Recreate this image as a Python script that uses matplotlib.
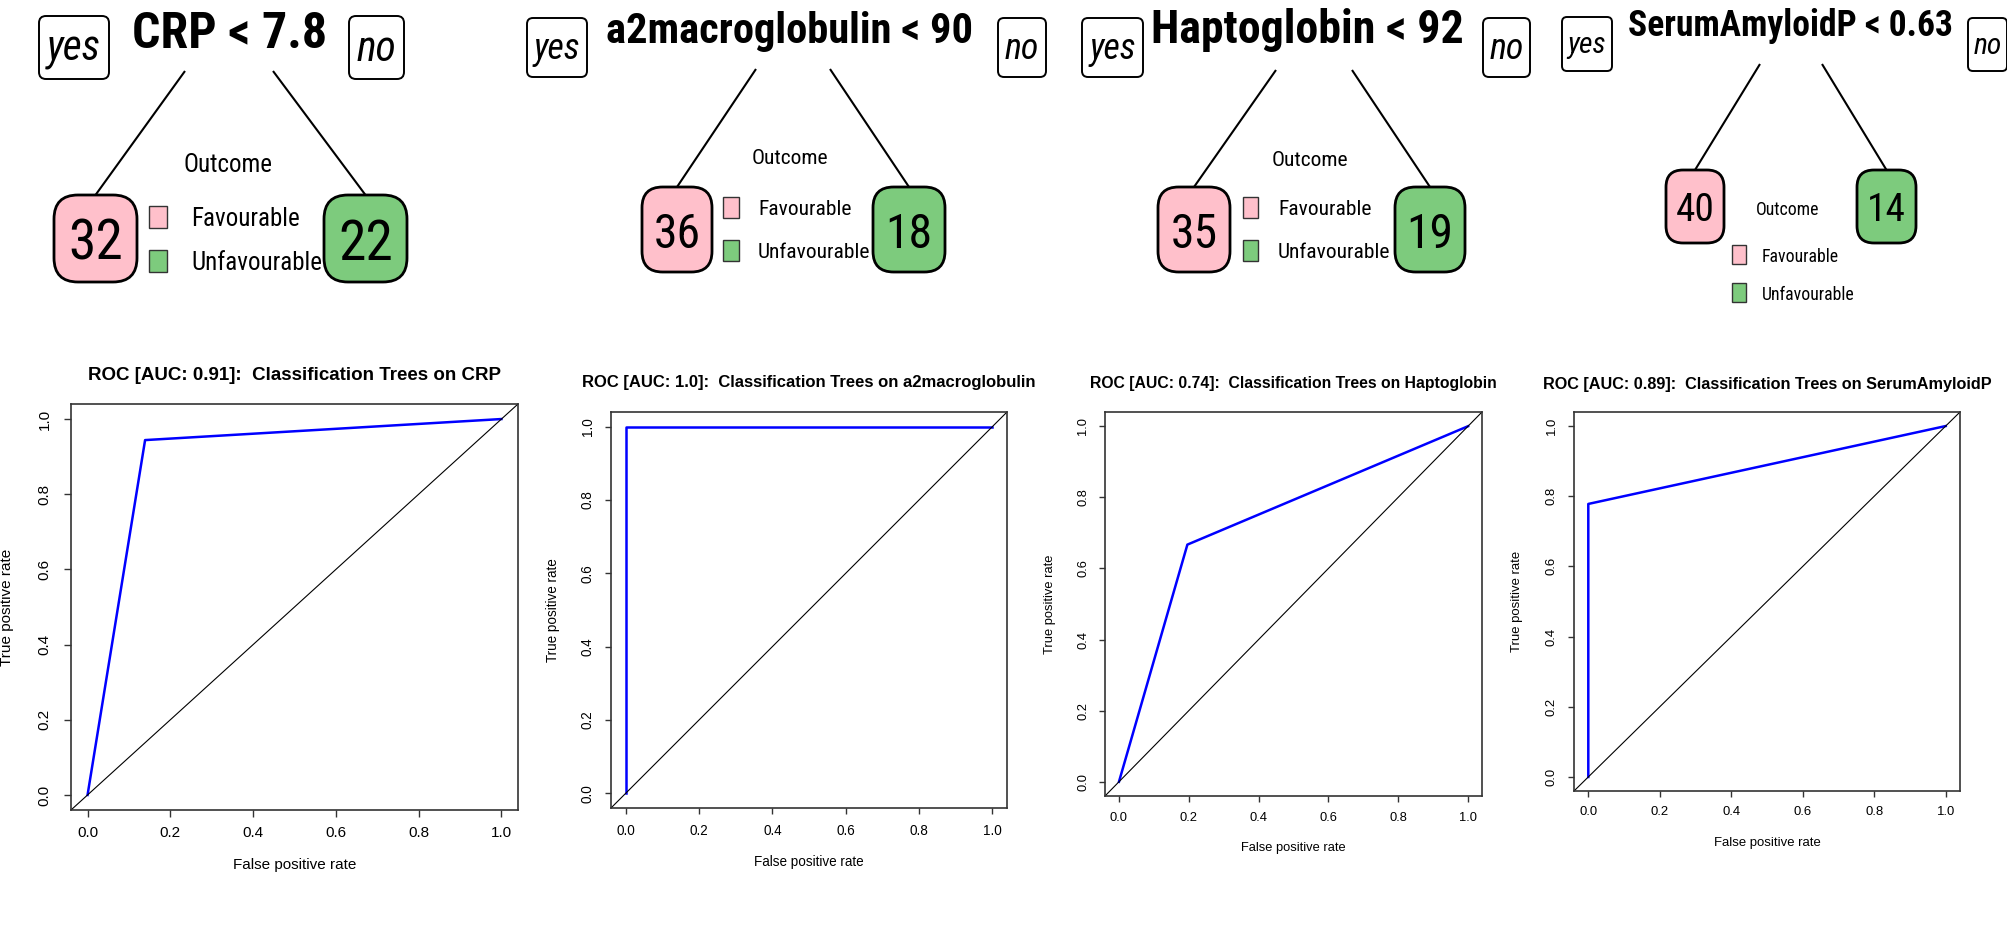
import matplotlib
matplotlib.use("Agg")
import matplotlib.pyplot as plt
from matplotlib import font_manager
from matplotlib.patches import FancyBboxPatch, Rectangle

# ---------------- DATA ----------------
split_vars = ["CRP", "a2macroglobulin", "Haptoglobin", "SerumAmyloidP"]
split_values = ["7.8", "90", "92", "0.63"]
yes_counts = [32, 36, 35, 40]
no_counts = [22, 18, 19, 14]
classes = ["Favourable", "Unfavourable"]
auc = ["0.91", "1.0", "0.74", "0.89"]
fpr = [[0.0, 0.139, 1.0], [0.0, 0.0, 1.0], [0.0, 0.196, 1.0], [0.0, 0.0, 1.0]]
tpr = [[0.0, 0.944, 1.0], [0.0, 1.0, 1.0], [0.0, 0.667, 1.0], [0.0, 0.778, 1.0]]
ticks = [0.0, 0.2, 0.4, 0.6, 0.8, 1.0]
tick_labels = ["0.0", "0.2", "0.4", "0.6", "0.8", "1.0"]

class_colors = ["#FFC0CB", "#7DCB7D"]

W, H = 2008, 939

# narrow font for the rpart trees, if there is one
names = {f.name for f in font_manager.fontManager.ttflist}
narrow = None
for cand in ["Liberation Sans Narrow", "Arial Narrow", "Roboto Condensed"]:
    if cand in names:
        narrow = cand
        break
fk = 1.0
if narrow is None:
    narrow = "Liberation Sans"
    fk = 0.88
plain = "Liberation Sans"

fig = plt.figure(figsize=(W / 100, H / 100), dpi=100)
ov = fig.add_axes([0, 0, 1, 1], zorder=0)
ov.set_xlim(0, W)
ov.set_ylim(H, 0)
ov.axis("off")

# ---------------- TREES (pixel layout) ----------------
trees = [
    dict(s=1.0, yes=(39, 16, 70, 63), no=(349, 16, 55, 63), title=(230, 29, 195),
         split=(185, 273, 71), leafL=(54, 195, 83, 87), leafR=(324, 195, 83, 87),
         outcome=(228, 162), sq=(149, 18, 22, (206, 250)), legx=191),
    dict(s=0.86, yes=(527, 18, 60, 59), no=(998, 18, 48, 59), title=(790, 27, 367),
         split=(756, 830, 69), leafL=(642, 187, 70, 85), leafR=(873, 187, 72, 85),
         outcome=(790, 157), sq=(723, 16, 21, (197, 240)), legx=758),
    dict(s=0.86, yes=(1082, 18, 61, 59), no=(1483, 18, 47, 59), title=(1307, 26, 312),
         split=(1276, 1352, 70), leafL=(1158, 187, 72, 85), leafR=(1395, 187, 70, 85),
         outcome=(1310, 158), sq=(1243, 15, 21, (197, 240)), legx=1278),
    dict(s=0.71, yes=(1562, 17, 50, 54), no=(1968, 18, 39, 53), title=(1790, 22, 325),
         split=(1760, 1822, 64), leafL=(1666, 170, 58, 73), leafR=(1857, 170, 59, 73),
         outcome=(1788, 208), sq=(1732, 14, 19, (245, 283)), legx=1762),
]

titles = []
for i, L in enumerate(trees):
    s = L["s"]
    for key in ("yes", "no"):
        x, y, w, h = L[key]
        ov.add_patch(FancyBboxPatch((x, y), w, h,
                                    boxstyle=f"round,pad=0,rounding_size={7 * s}",
                                    fc="white", ec="black", lw=1.4))
        ov.text(x + w / 2, y + h / 2 + 2 * s, key, style="italic", family=narrow,
                fontsize=30 * s * fk, ha="center", va="center")
    tx, ty, tw = L["title"]
    t = ov.text(tx, ty, f"{split_vars[i]} < {split_values[i]}", weight="bold",
                family=narrow, fontsize=36 * s, ha="center", va="center_baseline")
    titles.append((t, tw))

    xl, xr, ys = L["split"]
    for (bx, by, bw, bh), x0, col, n in ((L["leafL"], xl, class_colors[0], yes_counts[i]),
                                          (L["leafR"], xr, class_colors[1], no_counts[i])):
        ov.plot([x0, bx + bw / 2], [ys, by], color="black", lw=1.5, solid_capstyle="butt")
        ov.add_patch(FancyBboxPatch((bx, by), bw, bh,
                                    boxstyle=f"round,pad=0,rounding_size={24 * s}",
                                    fc=col, ec="black", lw=2.0))
        ov.text(bx + bw / 2, by + bh / 2, str(n), family=narrow,
                fontsize=40 * s * fk, ha="center", va="center_baseline")

    ox, oy = L["outcome"]
    ov.text(ox, oy, "Outcome", family=narrow, fontsize=18 * s * fk,
            ha="center", va="center_baseline")
    sx, sw, sh, sys_ = L["sq"]
    for c, yy, lab in zip(class_colors, sys_, classes):
        ov.add_patch(Rectangle((sx, yy), sw, sh, fc=c, ec="#333333", lw=1.0))
        ov.text(L["legx"], yy + sh / 2, lab, family=narrow, fontsize=18 * s * fk,
                ha="left", va="center_baseline")

# fit the split titles to their measured widths
fig.canvas.draw()
r = fig.canvas.get_renderer()
for t, tw in titles:
    bw = t.get_window_extent(r).width
    t.set_fontsize(t.get_fontsize() * tw / bw)

# ---------------- ROC CURVES ----------------
boxes = [(71, 404, 518, 810), (611, 412, 1007, 808), (1105, 412, 1482, 796), (1574, 412, 1960, 791)]
title_y = [373, 381, 382, 383]
xlab_y = [865, 862, 848, 843]
ylab_x = [7, 553, 1050, 1517]
ytick_x = [43, 587, 1082, 1550]
xtick_y = [834, 831, 819, 813]

for i, (l, t, rgt, b) in enumerate(boxes):
    w, h = rgt - l, b - t
    k = w / 447.0
    ax = fig.add_axes([l / W, 1 - b / H, w / W, h / H], zorder=2)
    ax.plot(fpr[i], tpr[i], color="blue", lw=1.8)
    ax.axline((0, 0), (1, 1), color="black", lw=0.8)
    ax.set_xlim(-0.04, 1.04)
    ax.set_ylim(-0.04, 1.04)
    ax.set_xticks(ticks, tick_labels, family=plain, fontsize=11 * k)
    ax.set_yticks(ticks, tick_labels, family=plain, fontsize=11 * k, rotation=90, va="center")
    tl = 7 * k
    fs_px = 11 * k * 100 / 72
    ax.tick_params(axis="x", length=tl * 0.72, width=1, color="#333333",
                   pad=(xtick_y[i] - b - tl - 0.55 * fs_px) * 0.72)
    ax.tick_params(axis="y", length=tl * 0.72, width=1, color="#333333",
                   pad=(l - ytick_x[i] - tl - 0.57 * fs_px) * 0.72)
    for sp in ax.spines.values():
        sp.set_color("#333333")
        sp.set_linewidth(1.2)
    ax.set_xlabel("False positive rate", family=plain, fontsize=11 * k)
    ax.xaxis.label.set_va("center")
    ax.xaxis.set_label_coords(0.5, -(xlab_y[i] - b) / h)
    ax.set_ylabel("True positive rate", family=plain, fontsize=11 * k)
    ax.yaxis.label.set_va("center")
    ax.yaxis.set_label_coords(-(l - ylab_x[i]) / w, 0.5)
    ax.text(0.5, 1 + (t - title_y[i]) / h,
            f"ROC [AUC: {auc[i]}]:  Classification Trees on {split_vars[i]}",
            transform=ax.transAxes, family=plain, weight="bold", fontsize=13.5 * k,
            ha="center", va="center_baseline")

fig.savefig("out.png", dpi=100)
